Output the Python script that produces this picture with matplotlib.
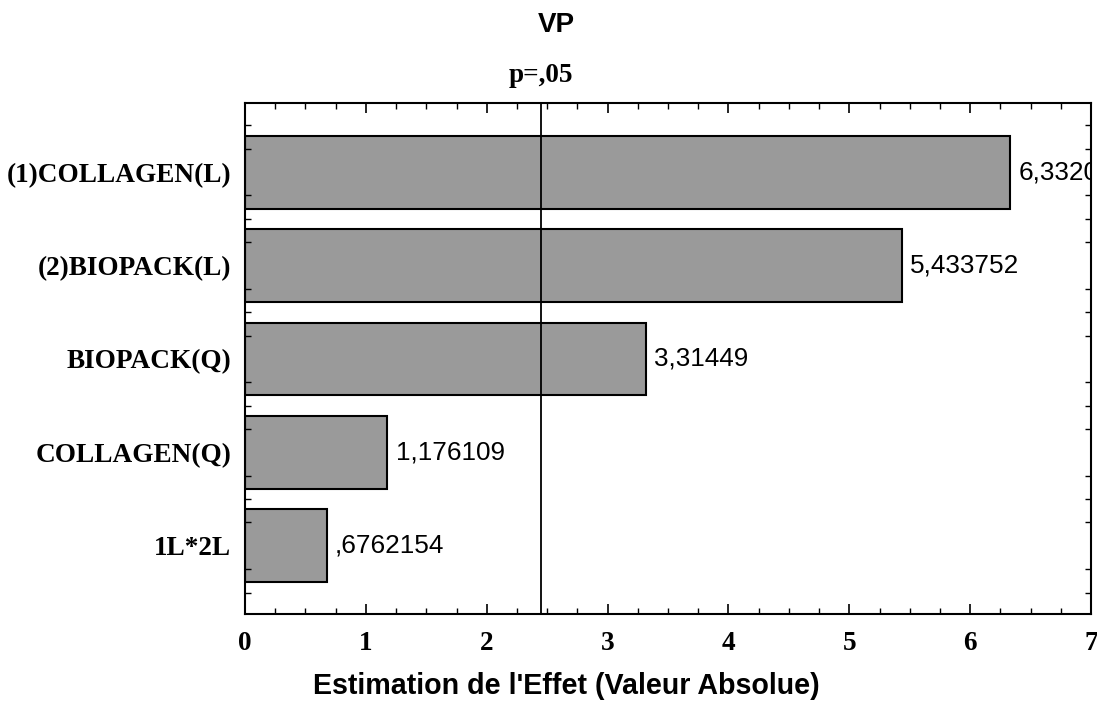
import matplotlib.pyplot as plt
from matplotlib.ticker import MultipleLocator

# Pareto chart of standardized effects for VP

effects = ["(1)COLLAGEN(L)", "(2)BIOPACK(L)", "BIOPACK(Q)", "COLLAGEN(Q)", "1L*2L"]
values = [6.332033, 5.433752, 3.31449, 1.176109, 0.6762154]
p_limit = 2.446912  # t critical at p=.05


def fmt(v):
    # Statistica style: comma decimal, no leading zero
    s = ("%.7g" % v).replace(".", ",")
    if s.startswith("0,"):
        s = s[1:]
    return s


serif = "Liberation Serif"
sans = "Liberation Sans"

fig = plt.figure(figsize=(10.97, 7.08), dpi=100)
ax = fig.add_axes([245 / 1097, 1 - 614 / 708, 846 / 1097, 511 / 708])

ypos = list(range(len(effects)))[::-1]
ax.barh(ypos, values, height=0.78, color="#9a9a9a", edgecolor="black", linewidth=1.5)

for y, v in zip(ypos, values):
    ax.text(v + 0.07, y, fmt(v), va="center", ha="left", fontsize=18.8,
            family=sans, clip_on=True)

ax.axvline(p_limit, color="black", linewidth=1.3)

ax.set_xlim(0, 7)
ax.set_ylim(-0.73, 4.74)
ax.set_yticks(ypos)
ax.set_yticklabels(effects, family=serif, fontweight="bold", fontsize=19.6)
ax.set_xticks(range(8))
ax.set_xticklabels([str(i) for i in range(8)], family=serif, fontweight="bold", fontsize=19.6)

ax.xaxis.set_minor_locator(MultipleLocator(0.25))
ax.yaxis.set_minor_locator(MultipleLocator(0.25))
ax.tick_params(which="both", direction="in", top=True, right=True)
ax.tick_params(which="major", length=7, width=1.2, pad=12)
ax.tick_params(which="minor", length=4, width=1)
ax.tick_params(axis="y", which="major", length=0, pad=10)

for s in ax.spines.values():
    s.set_linewidth(1.5)

fig.text(556 / 1097, 1 - 25 / 708, "VP", ha="center", va="center", fontsize=20,
         family=sans, fontweight="bold")
fig.text(541 / 1097, 1 - 76 / 708, "p=,05", ha="center", va="center", fontsize=19.5,
         family=serif, fontweight="bold")
fig.text(566 / 1097, 1 - 686 / 708, "Estimation de l'Effet (Valeur Absolue)",
         ha="center", va="center", fontsize=20.6, family=sans, fontweight="bold")

fig.savefig("out.png", dpi=100)
